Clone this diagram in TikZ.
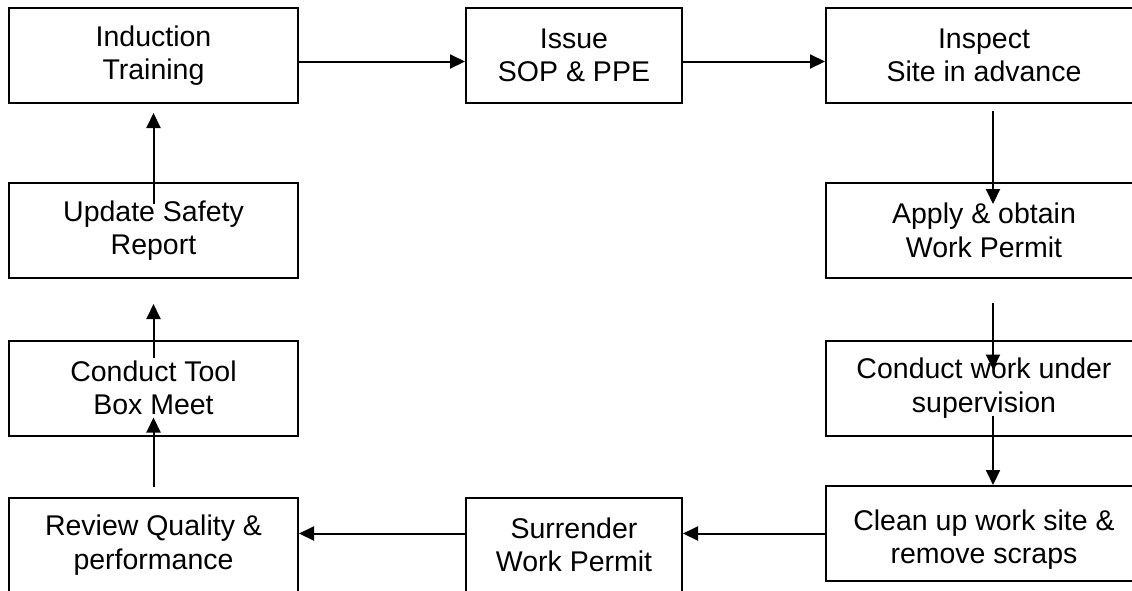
\documentclass[tikz,border=0pt]{standalone}
\usepackage{fontspec}
\setmainfont{Liberation Sans}
\usetikzlibrary{arrows.meta}

\begin{document}
\begin{tikzpicture}[x=1pt, y=-1pt,
  stepbox/.style={draw, line width=2pt, align=center, inner sep=0pt, minimum height=95pt,
    font=\fontsize{28.5pt}{33.5pt}\selectfont},
  leftbox/.style={stepbox, minimum width=289pt},
  midbox/.style={stepbox, minimum width=216pt},
  rightbox/.style={stepbox, minimum width=316pt},
  flow/.style={line width=2pt, -{Triangle[length=15pt, width=14pt]}}]
  \clip (0, 0) rectangle (1132, 590);
  \fill[white] (0, 0) rectangle (1132, 590);

  % Top row
  \node[leftbox] (ind) at (153.5, 55.5) {Induction\\Training};
  \node[midbox] (iss) at (574, 55.5) {Issue\\SOP \& PPE};
  \node[rightbox] (insp) at (984, 55.5) {Inspect\\Site in advance};

  % Right column
  \node[rightbox] (apply) at (984, 230.5) {Apply \& obtain\\Work Permit};
  \node[rightbox] (work) at (984, 388) {Conduct work under\\supervision};
  \node[rightbox, text height=66pt] (clean) at (984, 533.5) {Clean up work site \&\\remove scraps};

  % Bottom row
  \node[midbox] (surr) at (574, 545) {Surrender\\Work Permit};
  \node[leftbox] (rev) at (153.5, 545) {Review Quality \&\\performance};

  % Left column
  \node[leftbox] (tool) at (153.5, 388) {Conduct Tool\\Box Meet};
  \node[leftbox] (upd) at (153.5, 230.5) {Update Safety\\Report};

  % Flow
  \draw[flow] ([yshift=-6pt]ind.east) -- ([yshift=-6pt]iss.west);
  \draw[flow] ([yshift=-6pt]iss.east) -- ([yshift=-6pt]insp.west);
  \draw[flow] ([xshift=9pt, yshift=-7pt]insp.south) -- ([xshift=9pt, yshift=-22pt]apply.north);
  \draw[flow] ([xshift=9pt, yshift=-24pt]apply.south) -- ([xshift=9pt, yshift=-30pt]work.north);
  \draw[flow] ([xshift=9pt, yshift=21pt]work.south) -- ([xshift=9pt]clean.north);
  \draw[flow] (clean.west) -- (clean.west -| surr.east);
  \draw[flow] ([yshift=11.5pt]surr.west) -- ([yshift=11.5pt]rev.east);
  \draw[flow] ([yshift=10pt]rev.north) -- ([yshift=19pt]tool.south);
  \draw[flow] ([yshift=-18pt]tool.north) -- ([yshift=-25pt]upd.south);
  \draw[flow] ([yshift=-22pt]upd.north) -- ([yshift=-9pt]ind.south);
\end{tikzpicture}
\end{document}
